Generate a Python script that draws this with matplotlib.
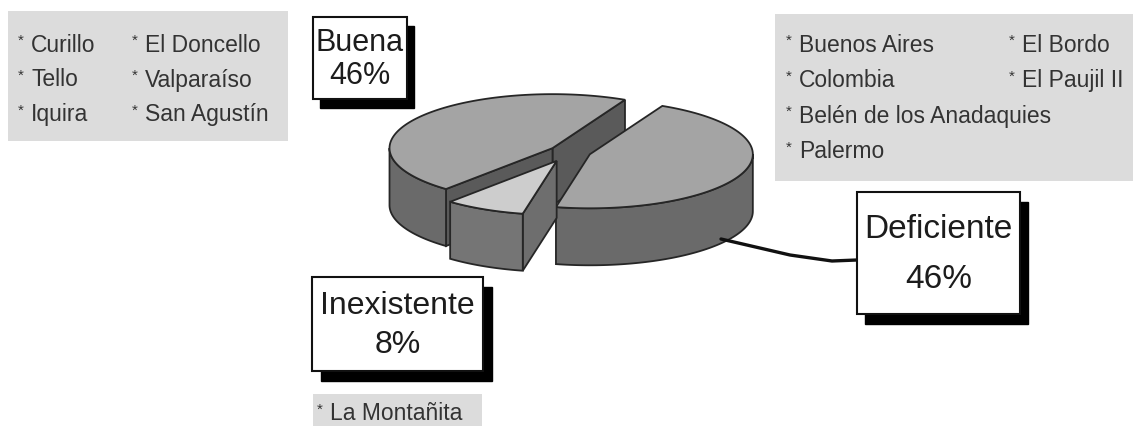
import numpy as np
import matplotlib.pyplot as plt
from matplotlib.patches import Polygon, Rectangle

# pie data (clockwise from the start angle)
categories = ['Deficiente', 'Inexistente', 'Buena']
values = [46, 8, 46]

# municipalities listed beside each category
buena_col1 = ['Curillo', 'Tello', 'Iquira']
buena_col2 = ['El Doncello', 'Valparaíso', 'San Agustín']
deficiente_col1 = ['Buenos Aires', 'Colombia', 'Belén de los Anadaquies', 'Palermo']
deficiente_col2 = ['El Bordo', 'El Paujil II']
inexistente_sites = ['La Montañita']

W, H = 1133, 427
fig = plt.figure(figsize=(W / 100, H / 100), dpi=100)
ax = fig.add_axes([0, 0, 1, 1])
ax.set_xlim(0, W)
ax.set_ylim(H, 0)
ax.axis('off')

plt.rcParams['font.family'] = ['Liberation Sans', 'DejaVu Sans']

# 3d pie geometry (pixel space)
cx, cy = 570, 153
rx, ry = 163, 54
depth = 57
start = 63.6
explode = {'Deficiente': 21, 'Inexistente': 30, 'Buena': 21}
top_col = {'Deficiente': '#a4a4a4', 'Inexistente': '#cdcdcd', 'Buena': '#a4a4a4'}
wall_col = {'Deficiente': '#6a6a6a', 'Inexistente': '#757575', 'Buena': '#6a6a6a'}
cut_col = {'Deficiente': '#5a5a5a', 'Inexistente': '#6e6e6e', 'Buena': '#5a5a5a'}
edge = '#262626'


def rim(px, py, t, dz=0.0):
    return (px + rx * np.cos(t), py - ry * np.sin(t) + dz)


total = float(sum(values))
slices = []
hi = start
for name, v in zip(categories, values):
    lo = hi - 360.0 * v / total
    mid = np.radians((lo + hi) / 2)
    d = explode[name]
    px = cx + d * np.cos(mid)
    py = cy - d * (ry / rx) * np.sin(mid)
    slices.append((name, v, lo, hi, px, py))
    hi = lo

# back slices first
for name, v, lo, hi, px, py in sorted(slices, key=lambda s: s[5]):
    tlo, thi = np.radians(lo), np.radians(hi)
    # radial cut faces that face the viewer
    for t, show in ((tlo, np.cos(tlo) > 0), (thi, np.cos(thi) < 0)):
        if show:
            face = [(px, py), rim(px, py, t), rim(px, py, t, depth), (px, py + depth)]
            ax.add_patch(Polygon(face, closed=True, fc=cut_col[name], ec=edge, lw=1.3))
    # front part of the outer wall
    for k in (-1, 0, 1):
        a0 = max(lo, -180 + 360 * k)
        a1 = min(hi, 360 * k)
        if a1 > a0:
            ts = np.radians(np.linspace(a0, a1, 80))
            top = [rim(px, py, t) for t in ts]
            bot = [rim(px, py, t, depth) for t in ts[::-1]]
            ax.add_patch(Polygon(top + bot, closed=True, fc=wall_col[name], ec=edge, lw=1.3))
    # top face
    ts = np.radians(np.linspace(lo, hi, 120))
    pts = [(px, py)] + [rim(px, py, t) for t in ts]
    ax.add_patch(Polygon(pts, closed=True, fc=top_col[name], ec=edge, lw=1.3))

# leader line to the Deficiente label
ax.plot([721, 790, 832, 857], [240, 256, 262, 261], color='#111111', lw=2.4,
        solid_capstyle='round', zorder=3)


def label_box(x0, y0, x1, y1, name, v, size, sx=8, sy=9):
    ax.add_patch(Rectangle((x0 + sx, y0 + sy), x1 - x0, y1 - y0, fc='black', ec='black', zorder=4))
    ax.add_patch(Rectangle((x0, y0), x1 - x0, y1 - y0, fc='white', ec='#111111', lw=1.5, zorder=5))
    xc = (x0 + x1) / 2
    hgt = y1 - y0
    ax.text(xc, y0 + hgt * 0.30, name, ha='center', va='center', fontsize=size,
            color='#1c1c1c', zorder=6)
    ax.text(xc, y0 + hgt * 0.71, f'{v}%', ha='center', va='center', fontsize=size,
            color='#1c1c1c', zorder=6)


vals = dict(zip(categories, values))
label_box(313, 18, 407, 100, 'Buena', vals['Buena'], 22, 7, 9)
label_box(312, 278, 483, 372, 'Inexistente', vals['Inexistente'], 23, 9, 10)
label_box(857, 193, 1020, 315, 'Deficiente', vals['Deficiente'], 24, 8, 10)

# grey site lists
gray = '#dcdcdc'
txt = '#333333'
fs = 16.5


def site(x, y, s):
    # small raised bullet, then the name
    ax.text(x + 4, y - 4, '*', ha='center', va='center', fontsize=11, color=txt, zorder=2)
    ax.text(x + 14, y, s, ha='left', va='center', fontsize=fs, color=txt, zorder=2)


ax.add_patch(Rectangle((8, 12), 280, 130, fc=gray, ec='none', zorder=1))
for i, s in enumerate(buena_col1):
    site(17, 45 + 35 * i, s)
for i, s in enumerate(buena_col2):
    site(131, 45 + 35 * i, s)

ax.add_patch(Rectangle((775, 15), 370, 167, fc=gray, ec='none', zorder=1))
for i, s in enumerate(deficiente_col1):
    site(785, 45 + 35.5 * i, s)
for i, s in enumerate(deficiente_col2):
    site(1008, 45 + 35.5 * i, s)

ax.add_patch(Rectangle((313, 395), 169, 40, fc=gray, ec='none', zorder=1))
for i, s in enumerate(inexistente_sites):
    site(316, 414 + 35 * i, s)

fig.savefig('out.png', dpi=100)
